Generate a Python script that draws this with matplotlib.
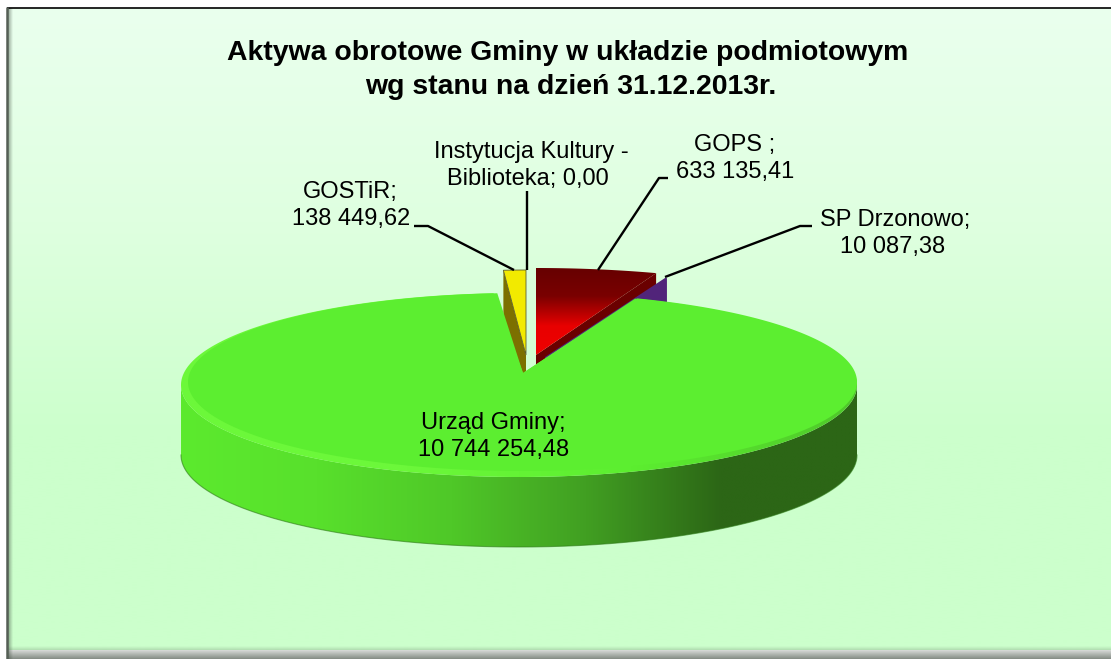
import numpy as np
import matplotlib
matplotlib.use("Agg")
import matplotlib.pyplot as plt
from matplotlib.colors import LinearSegmentedColormap
from matplotlib.patches import Polygon

plt.rcParams['font.family'] = ['Liberation Sans', 'DejaVu Sans']

# dane z wykresu
categories = ["GOPS", "SP Drzonowo", "Urząd Gminy", "GOSTiR", "Instytucja Kultury - Biblioteka"]
values = [633135.41, 10087.38, 10744254.48, 138449.62, 0.00]
title_lines = ["Aktywa obrotowe Gminy w układzie podmiotowym", "wg stanu na dzień 31.12.2013r."]

total = sum(values)
angles = np.cumsum([0] + [v / total * 360 for v in values])

W, H = 1111, 659
DEPTH = 70

fig = plt.figure(figsize=(W / 100, H / 100), dpi=100, facecolor="white")
ax = fig.add_axes([0, 0, 1, 1])
ax.axis("off")


def arc(cx, cy, rx, ry, a0, a1, n=200):
    a = np.radians(np.linspace(a0, a1, n))
    return np.column_stack([cx + rx * np.sin(a), cy - ry * np.cos(a)])


def gradient(colors, extent, vertical=True, zorder=1, clip=None):
    cmap = LinearSegmentedColormap.from_list("g", colors)
    g = np.linspace(0, 1, 256)
    g = g.reshape(-1, 1) if vertical else g.reshape(1, -1)
    im = ax.imshow(g, cmap=cmap, extent=extent, aspect="auto", origin="upper",
                   zorder=zorder, vmin=0, vmax=1, interpolation="bilinear")
    if clip is not None:
        p = Polygon(clip, closed=True, transform=ax.transData, fc="none", ec="none")
        ax.add_patch(p)
        im.set_clip_path(p)
    return im


def poly(pts, color, zorder, ec="none", lw=0):
    ax.add_patch(Polygon(pts, closed=True, fc=color, ec=ec, lw=lw, zorder=zorder))


# tlo i obramowanie
gradient(["#EAFFEE", "#DFFFE0", "#CCFFCC", "#CCFFCC"], (8, W, 650, 8), zorder=0)
gradient([(0.25, 0.3, 0.25, 0.0), (0.25, 0.3, 0.25, 0.65)], (8, W, 659, 646), zorder=0.5)
gradient([(0.25, 0.3, 0.25, 0.5), (0.25, 0.3, 0.25, 0.0)], (8, 13, 659, 8), vertical=False, zorder=0.5)
ax.plot([7, W], [7.5, 7.5], color="black", lw=1.2, zorder=1, solid_capstyle="butt")
ax.plot([7, 7], [7, 659], color="#555F55", lw=1.8, zorder=1, solid_capstyle="butt")

# GOSTiR - zolty
a0, a1 = angles[3], angles[4]
yc = (526, 355)
y_top = arc(yc[0], yc[1], 300, 85, a0, a1, 30)
y_apex = np.array([yc])
poly(np.vstack([y_apex, y_top[:1], y_top[:1] + [0, DEPTH], y_apex + [0, DEPTH]]), "#7C7000", 2)
poly(np.vstack([y_apex, y_top]), "#F2EA00", 3, ec="#5C5C30", lw=0.6)

# GOPS - czerwony
a0, a1 = angles[0], angles[1]
rc = (536, 355)
r_top = arc(rc[0], rc[1], 355, 87, a0, a1, 60)
r_apex = np.array([rc])
poly(np.vstack([r_apex, r_top[-1:], r_top[-1:] + [0, DEPTH], r_apex + [0, DEPTH]]), "#6A0000", 4)
gradient(["#650000", "#7A0000", "#E80000", "#F00000"], (530, 665, 356, 266), zorder=5,
         clip=np.vstack([r_apex, r_top]))

# SP Drzonowo - fioletowy
a0, a1 = angles[1], angles[2]
pc = (545, 357)
p_top = arc(pc[0], pc[1], 355, 84, a0, a1, 5)
p_apex = np.array([pc])
poly(np.vstack([p_apex, p_top, p_top[-1:] + [0, DEPTH], p_apex + [0, DEPTH]]), "#51247A", 6)

# Urzad Gminy - zielony
a0, a1 = angles[2], angles[3]
cx, cy, rx, ry = 519, 385, 338, 92
front = arc(cx, cy, rx, ry, 90, 270)
wall = np.vstack([front, front[::-1] + [0, DEPTH]])
gradient(["#5CEA2E", "#58E02C", "#4FC828", "#419F22", "#2C6616", "#2C6616"], (181, 857, 560, 370),
         vertical=False, zorder=7, clip=wall)
ax.plot(front[:, 0], front[:, 1] + DEPTH, color="#2F7A18", lw=0.8, alpha=0.6, zorder=7.5)
apex = np.array([[523, 373]])
rim = np.vstack([apex, arc(cx, cy, rx, ry, a0, a1, 400)])
gradient(["#6CF83A", "#6CF83A", "#5CEE30", "#4FC82A"], (181, 857, 490, 290), vertical=False, zorder=8, clip=rim)
top = np.vstack([apex, arc(cx + 3.5, cy - 3, rx - 3.5, ry - 3, a0, a1, 400)])
poly(top, "#5CEE30", 9)

# linie odniesienia
leaders = [
    ([668, 659, 598], [178, 178, 270]),
    ([812, 800, 665], [226, 226, 277]),
    ([527, 527], [191, 270]),
    ([414, 428, 514], [226, 226, 270]),
]
for lx, ly in leaders:
    ax.plot(lx, ly, color="black", lw=1.7, zorder=10, solid_capstyle="butt")

# teksty
ax.text(568, 53, title_lines[0], ha="center", va="center", fontsize=20.4, fontweight="bold", zorder=11)
ax.text(571, 87, title_lines[1], ha="center", va="center", fontsize=20.4, fontweight="bold", zorder=11)

label_kw = dict(ha="center", va="center", fontsize=17, color="black", zorder=11)
ax.text(531, 152, "Instytucja Kultury -", **label_kw)
ax.text(528, 179, "Biblioteka; 0,00", **label_kw)
ax.text(735, 145, "GOPS ;", **label_kw)
ax.text(735, 172, "633 135,41", **label_kw)
ax.text(895, 220, "SP Drzonowo;", **label_kw)
ax.text(893, 247, "10 087,38", **label_kw)
ax.text(350, 192, "GOSTiR;", **label_kw)
ax.text(351, 219, "138 449,62", **label_kw)
ax.text(493, 423, "Urząd Gminy;", **label_kw)
ax.text(494, 450, "10 744 254,48", **label_kw)

ax.set_xlim(0, W)
ax.set_ylim(H, 0)
fig.savefig("out.png", dpi=100, facecolor="white")
